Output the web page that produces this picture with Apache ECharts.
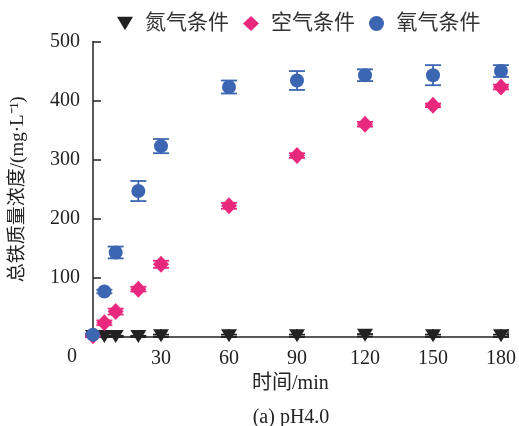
<!DOCTYPE html>
<html>
<head>
<meta charset="utf-8">
<script src="https://cdn.jsdelivr.net/npm/echarts@6/dist/echarts.min.js"></script>
<style>
html, body { margin: 0; padding: 0; background: #fff; }
#main { width: 519px; height: 426px; }
</style>
</head>
<body>
<div id="main"></div>
<script>
var times = [0, 5, 10, 20, 30, 60, 90, 120, 150, 180];
var seriesNames = ['氮气条件', '空气条件', '氧气条件'];
var n2Values = [1, 1, 1, 1, 2, 2, 2, 3, 2, 2];
var n2Errors = [1, 1, 1, 1, 2, 2, 2, 2, 2, 2];
var airValues = [2, 24, 43, 81, 123, 222, 307, 360, 392, 423];
var airErrors = [2, 4, 5, 4, 6, 5, 4, 4, 3, 4];
var o2Values = [4, 77, 143, 247, 323, 423, 434, 443, 443, 450];
var o2Errors = [2, 3, 10, 17, 12, 11, 16, 10, 17, 10];
var xTicks = [0, 30, 60, 90, 120, 150, 180];
var yTicks = [0, 100, 200, 300, 400, 500];

var colors = ['#222222', '#e8287d', '#3d66b2'];
var fontNum = "'Liberation Serif', 'Noto Sans CJK SC'";

function pairs(vals, errs) {
    return times.map(function (t, i) { return [t, vals[i], errs[i]]; });
}

function errorSeries(vals, errs, color) {
    return {
        type: 'custom',
        silent: true,
        z: 1,
        data: pairs(vals, errs),
        encode: { x: 0, y: 1 },
        renderItem: function (params, api) {
            var x = api.value(0), y = api.value(1), e = api.value(2);
            var hi = api.coord([x, y + e]);
            var lo = api.coord([x, y - e]);
            var w = 8;
            var style = { stroke: color, lineWidth: 1.8 };
            return {
                type: 'group',
                children: [
                    { type: 'line', shape: { x1: hi[0], y1: hi[1], x2: lo[0], y2: lo[1] }, style: style },
                    { type: 'line', shape: { x1: hi[0] - w, y1: hi[1], x2: hi[0] + w, y2: hi[1] }, style: style },
                    { type: 'line', shape: { x1: lo[0] - w, y1: lo[1], x2: lo[0] + w, y2: lo[1] }, style: style }
                ]
            };
        }
    };
}

var myChart = echarts.init(document.getElementById('main'));

var option = {
    animation: false,
    title: {
        text: '(a) pH4.0',
        left: 286,
        textAlign: 'center',
        top: 403,
        textStyle: { fontFamily: fontNum, fontSize: 20, fontWeight: 'normal', color: '#222' }
    },
    legend: {
        data: [
            { name: seriesNames[0], icon: 'path://M0,0 L10,0 L5,8.5 Z' },
            { name: seriesNames[1], icon: 'diamond' },
            { name: seriesNames[2], icon: 'circle' }
        ],
        left: 112,
        top: 8,
        itemWidth: 16,
        itemHeight: 15,
        itemGap: 14,
        itemStyle: { opacity: 1 },
        textStyle: { fontFamily: fontNum, fontSize: 21, color: '#333', padding: [0, 0, 0, 7] }
    },
    grid: { left: 93, right: 11, top: 41.5, bottom: 89, containLabel: false },
    xAxis: {
        type: 'value',
        min: 0,
        max: 183,
        interval: 30,
        name: '时间/min',
        nameLocation: 'middle',
        nameGap: 37,
        nameTextStyle: { fontFamily: fontNum, fontSize: 20, color: '#222', padding: [0, 20, 0, 0] },
        axisLine: { lineStyle: { color: '#222', width: 1.5 } },
        axisTick: { inside: true, length: 8, lineStyle: { color: '#222', width: 1.5 } },
        axisLabel: {
            margin: 12,
            fontFamily: fontNum, fontSize: 20, color: '#222',
            formatter: function (v) { return (v > 0 && xTicks.indexOf(v) >= 0) ? String(v) : ''; }
        },
        splitLine: { show: false }
    },
    yAxis: {
        type: 'value',
        min: 0,
        max: 500,
        interval: 100,
        name: '总铁质量浓度/(mg·L⁻¹)',
        nameLocation: 'middle',
        nameGap: 65,
        nameTextStyle: { fontFamily: fontNum, fontSize: 19, color: '#222' },
        axisLine: { show: true, lineStyle: { color: '#222', width: 1.5 } },
        axisTick: { show: true, inside: true, length: 8, lineStyle: { color: '#222', width: 1.5 } },
        axisLabel: {
            margin: 13,
            fontFamily: fontNum, fontSize: 20, color: '#222',
            formatter: function (v) { return (v > 0 && yTicks.indexOf(v) >= 0) ? String(v) : ''; }
        },
        splitLine: { show: false }
    },
    graphic: [{
        type: 'text',
        left: 67,
        top: 347,
        style: { text: '0', font: "20px 'Liberation Serif'", fill: '#222' }
    }],
    series: [
        errorSeries(n2Values, n2Errors, colors[0]),
        {
            name: seriesNames[0],
            type: 'scatter',
            z: 3,
            symbol: 'triangle',
            symbolRotate: 180,
            symbolSize: [16, 13],
            itemStyle: { color: colors[0], opacity: 1 },
            data: pairs(n2Values, n2Errors)
        },
        errorSeries(airValues, airErrors, colors[1]),
        {
            name: seriesNames[1],
            type: 'scatter',
            z: 4,
            symbol: 'diamond',
            symbolSize: [16, 17],
            itemStyle: { color: colors[1], opacity: 1 },
            data: pairs(airValues, airErrors)
        },
        errorSeries(o2Values, o2Errors, colors[2]),
        {
            name: seriesNames[2],
            type: 'scatter',
            z: 5,
            symbol: 'circle',
            symbolSize: 14,
            itemStyle: { color: colors[2], opacity: 1 },
            data: pairs(o2Values, o2Errors)
        }
    ]
};

myChart.setOption(option);
</script>
</body>
</html>
